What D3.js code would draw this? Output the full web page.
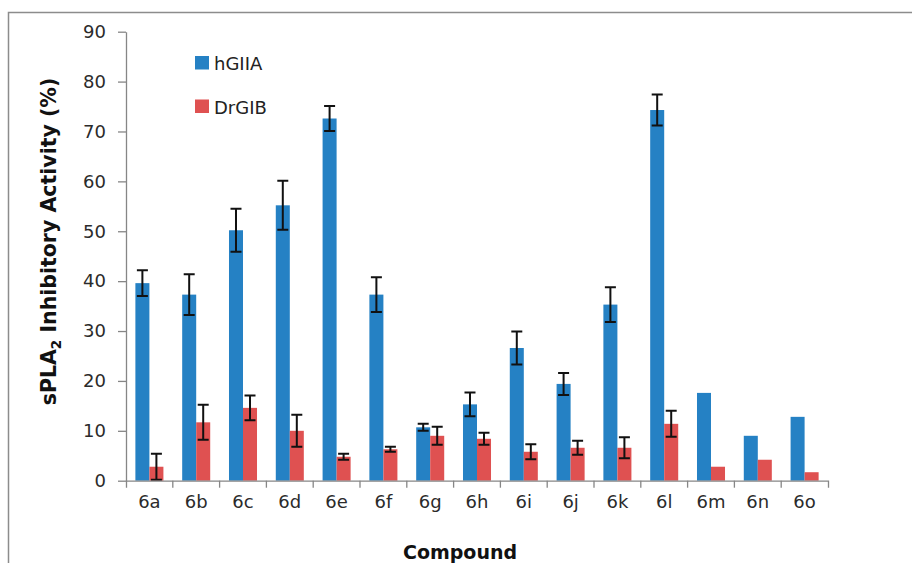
<!DOCTYPE html>
<html>
<head>
<meta charset="utf-8">
<script src="https://cdn.jsdelivr.net/npm/d3@7"></script>
<style>
  body { margin: 0; background: #fff; }
  svg { display: block; font-family: "DejaVu Sans", sans-serif; }
</style>
</head>
<body>
<svg id="chart" width="912" height="563"></svg>
<script>
var compounds = ['6a', '6b', '6c', '6d', '6e', '6f', '6g', '6h', '6i', '6j', '6k', '6l', '6m', '6n', '6o'];
var hGIIA = [39.6, 37.3, 50.2, 55.2, 72.6, 37.3, 10.7, 15.3, 26.6, 19.4, 35.3, 74.3, 17.6, 9.0, 12.8];
var hGIIAErr = [2.6, 4.1, 4.3, 4.9, 2.5, 3.5, 0.7, 2.4, 3.3, 2.2, 3.5, 3.1, 0, 0, 0];
var drGIB = [2.8, 11.7, 14.6, 10.0, 4.8, 6.3, 9.0, 8.4, 5.8, 6.6, 6.6, 11.4, 2.8, 4.2, 1.7];
var drGIBErr = [2.6, 3.5, 2.5, 3.2, 0.6, 0.5, 1.8, 1.2, 1.5, 1.4, 2.1, 2.6, 0, 0, 0];
var seriesNames = ['hGIIA', 'DrGIB'];
var yTicks = [0, 10, 20, 30, 40, 50, 60, 70, 80, 90];

var colors = { hGIIA: '#2581c4', DrGIB: '#df5151' };
var axisColor = '#868686';

var svg = d3.select('#chart');

// chart frame (only top and left edges show in the picture)
svg.append('path')
    .attr('d', 'M8.5,563V12.5H912')
    .attr('fill', 'none')
    .attr('stroke', '#8c8c8c')
    .attr('stroke-width', 1.5);

var x = d3.scaleBand().domain(compounds).range([126, 828]);
var x1 = d3.scaleBand().domain(seriesNames).range([0, x.bandwidth()]).paddingOuter(0.67);
var y = d3.scaleLinear().domain([0, 90]).range([480.7, 31.7]);

var series = [
    { name: 'hGIIA', values: hGIIA, errs: hGIIAErr },
    { name: 'DrGIB', values: drGIB, errs: drGIBErr }
];

// bars
series.forEach(function (s) {
    svg.append('g').selectAll('rect').data(compounds).enter()
        .append('rect')
        .attr('x', function (c) { return x(c) + x1(s.name); })
        .attr('y', function (c, i) { return y(s.values[i]); })
        .attr('width', x1.bandwidth())
        .attr('height', function (c, i) { return y(0) - y(s.values[i]); })
        .attr('fill', colors[s.name]);
});

// error bars
series.forEach(function (s) {
    var pts = compounds.map(function (c, i) {
        return { cx: x(c) + x1(s.name) + x1.bandwidth() / 2, v: s.values[i], e: s.errs[i] };
    }).filter(function (d) { return d.e > 0; });
    var g = svg.append('g').attr('stroke', '#111').attr('stroke-width', 2).attr('fill', 'none');
    g.selectAll('path').data(pts).enter()
        .append('path')
        .attr('d', function (d) {
            var t = y(d.v + d.e), b = y(d.v - d.e);
            return 'M' + d.cx + ',' + t + 'V' + b +
                'M' + (d.cx - 5.5) + ',' + t + 'H' + (d.cx + 5.5) +
                'M' + (d.cx - 5.5) + ',' + b + 'H' + (d.cx + 5.5);
        });
});

// y axis
var yAxis = svg.append('g')
    .attr('transform', 'translate(126,0)')
    .call(d3.axisLeft(y).tickValues(yTicks).tickSizeInner(8).tickSizeOuter(0).tickPadding(12));

// x axis
var xAxis = svg.append('g')
    .attr('transform', 'translate(0,' + y(0) + ')')
    .call(d3.axisBottom(x).tickSizeInner(0).tickSizeOuter(7).tickPadding(15));

xAxis.selectAll('.sep').data(compounds.slice(1)).enter()
    .append('line')
    .attr('class', 'sep')
    .attr('x1', function (c) { return x(c); })
    .attr('x2', function (c) { return x(c); })
    .attr('y1', 0).attr('y2', 7);

[yAxis, xAxis].forEach(function (a) {
    a.selectAll('path, line').attr('stroke', axisColor).attr('stroke-width', 1.3);
    a.selectAll('text').attr('font-size', 18).attr('fill', '#2b2b2b')
        .attr('font-family', '"DejaVu Sans", sans-serif');
});

// axis titles
var yTitle = svg.append('text')
    .attr('transform', 'translate(55.5,241.5) rotate(-90)')
    .attr('text-anchor', 'middle')
    .attr('font-size', 20.5)
    .attr('font-weight', 'bold')
    .attr('fill', '#111');
yTitle.append('tspan').text('sPLA');
yTitle.append('tspan').attr('font-size', 13.5).attr('dy', 5).text('2');
yTitle.append('tspan').attr('dy', -5).text(' Inhibitory Activity (%)');

svg.append('text')
    .attr('x', 460).attr('y', 559)
    .attr('text-anchor', 'middle')
    .attr('font-size', 19)
    .attr('font-weight', 'bold')
    .attr('fill', '#111')
    .text('Compound');

// legend
var legend = svg.append('g').selectAll('g').data(seriesNames).enter()
    .append('g')
    .attr('transform', function (d, i) { return 'translate(195,' + (56 + i * 43.5) + ')'; });
legend.append('rect')
    .attr('width', 14).attr('height', 13.5)
    .attr('fill', function (d) { return colors[d]; });
legend.append('text')
    .attr('x', 19).attr('y', 14)
    .attr('font-size', 18)
    .attr('fill', '#222')
    .text(function (d) { return d; });
</script>
</body>
</html>
